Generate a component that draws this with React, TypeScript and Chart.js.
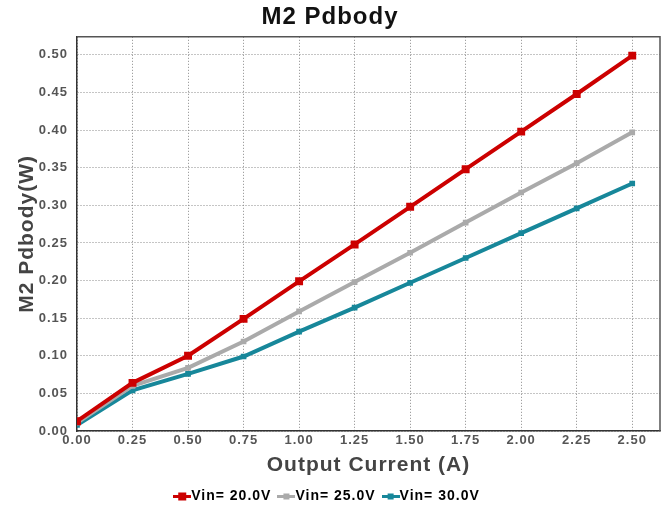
import React, { useEffect, useRef } from 'react';
import { Chart, registerables } from 'chart.js';

Chart.register(...registerables);

const currents = [0, 0.25, 0.5, 0.75, 1.0, 1.25, 1.5, 1.75, 2.0, 2.25, 2.5];
const vin20 = [0.013, 0.064, 0.100, 0.149, 0.199, 0.248, 0.298, 0.348, 0.398, 0.448, 0.499];
const vin25 = [0.011, 0.060, 0.084, 0.119, 0.159, 0.198, 0.237, 0.277, 0.317, 0.356, 0.397];
const vin30 = [0.008, 0.054, 0.076, 0.099, 0.132, 0.164, 0.197, 0.230, 0.263, 0.296, 0.329];
const seriesLabels = ['Vin= 20.0V', 'Vin= 25.0V', 'Vin= 30.0V'];
const seriesColors = ['#CC0000', '#AAAAAA', '#17879A'];
const xTickValues = [0, 0.25, 0.5, 0.75, 1.0, 1.25, 1.5, 1.75, 2.0, 2.25, 2.5];
const yTickValues = [0, 0.05, 0.1, 0.15, 0.2, 0.25, 0.3, 0.35, 0.4, 0.45, 0.5];

const FONT = "'Liberation Sans', Arial, sans-serif";

function makeIcon(color: string, sq: number): HTMLCanvasElement {
  const c = document.createElement('canvas');
  c.width = 18;
  c.height = 10;
  const g = c.getContext('2d')!;
  g.fillStyle = color;
  g.fillRect(0, 4, 18, 3);
  g.fillRect(9 - sq / 2, 5.5 - sq / 2, sq, sq);
  return c;
}

export default function App() {
  const ref = useRef<HTMLCanvasElement | null>(null);

  useEffect(() => {
    document.body.style.margin = '0';
    const canvas = ref.current!;
    const allSeries = [vin20, vin25, vin30];
    const pointSizes = [5.6, 4, 4];
    const icons = [makeIcon(seriesColors[0], 8), makeIcon(seriesColors[1], 6), makeIcon(seriesColors[2], 6)];

    const spacing = {
      id: 'spacing',
      beforeUpdate(chart: any) {
        chart.ctx.letterSpacing = '1px';
      },
      beforeDraw(chart: any) {
        chart.ctx.letterSpacing = '1px';
      },
    };

    const frame = {
      id: 'frame',
      beforeDatasetsDraw(chart: any) {
        const { ctx, chartArea: a } = chart;
        ctx.save();
        ctx.strokeStyle = '#555555';
        ctx.lineWidth = 1.5;
        ctx.beginPath();
        ctx.moveTo(a.left, a.top);
        ctx.lineTo(a.right, a.top);
        ctx.lineTo(a.right, a.bottom);
        ctx.stroke();
        ctx.restore();
      },
    };

    const chart = new Chart(canvas, {
      type: 'line',
      data: {
        datasets: allSeries.map((s, i) => ({
          label: seriesLabels[i],
          data: currents.map((x, j) => ({ x, y: s[j] })),
          borderColor: seriesColors[i],
          backgroundColor: seriesColors[i],
          borderWidth: 4,
          pointStyle: 'rect',
          pointRadius: pointSizes[i],
          pointBorderWidth: 0,
          pointBackgroundColor: seriesColors[i],
          tension: 0,
          fill: false,
        })),
      },
      options: {
        responsive: false,
        animation: false,
        layout: { padding: { top: 0, right: 8, bottom: 0, left: 0 } },
        plugins: {
          title: {
            display: true,
            text: 'M2 Pdbody',
            color: '#111111',
            font: { family: FONT, size: 24, weight: 'bold', lineHeight: 1.2 },
            padding: { top: 3, bottom: 5 },
          },
          legend: {
            position: 'bottom',
            labels: {
              usePointStyle: true,
              pointStyleWidth: 4,
              padding: 13,
              color: '#444444',
              font: { family: FONT, size: 14, weight: 'bold' },
              generateLabels: () =>
                seriesLabels.map((t, i) => ({
                  text: t,
                  pointStyle: icons[i] as any,
                  fillStyle: seriesColors[i],
                  strokeStyle: seriesColors[i],
                  lineWidth: 0,
                  hidden: false,
                  datasetIndex: i,
                })),
            },
          },
          tooltip: { enabled: false },
        },
        scales: {
          x: {
            type: 'linear',
            min: 0,
            max: 2.625,
            afterBuildTicks: (s: any) => {
              s.ticks = xTickValues.map((v) => ({ value: v }));
            },
            afterFit: (s: any) => {
              s.height = 45;
            },
            ticks: {
              padding: 2,
              color: '#555555',
              font: { family: FONT, size: 13, weight: 'bold' },
              callback: (v: any) => Number(v).toFixed(2),
              maxRotation: 0,
            },
            grid: {
              color: '#8a8a8a',
              lineWidth: 1,
              drawTicks: false,
            },
            border: { display: true, color: '#333333', width: 1.5, dash: [1, 2] },
            title: {
              display: true,
              text: 'Output Current (A)',
              color: '#444444',
              font: { family: FONT, size: 21, weight: 'bold', lineHeight: 1.0 },
              padding: { top: 0, bottom: 0 },
            },
          },
          y: {
            type: 'linear',
            min: 0,
            max: 0.524,
            afterBuildTicks: (s: any) => {
              s.ticks = yTickValues.map((v) => ({ value: v }));
            },
            afterFit: (s: any) => {
              s.width = 77;
            },
            ticks: {
              padding: 9,
              color: '#555555',
              font: { family: FONT, size: 13, weight: 'bold' },
              callback: (v: any) => Number(v).toFixed(2),
            },
            grid: {
              color: '#8a8a8a',
              lineWidth: 1,
              drawTicks: false,
            },
            border: { display: true, color: '#333333', width: 1.5, dash: [1, 2] },
            title: {
              display: true,
              text: 'M2 Pdbody(W)',
              color: '#444444',
              font: { family: FONT, size: 21, weight: 'bold', lineHeight: 1.2 },
              padding: { top: 15, bottom: 0 },
            },
          },
        },
      },
      plugins: [spacing, frame],
    } as any);

    return () => chart.destroy();
  }, []);

  return <canvas ref={ref} width={668} height={513} style={{ display: 'block' }} />;
}
